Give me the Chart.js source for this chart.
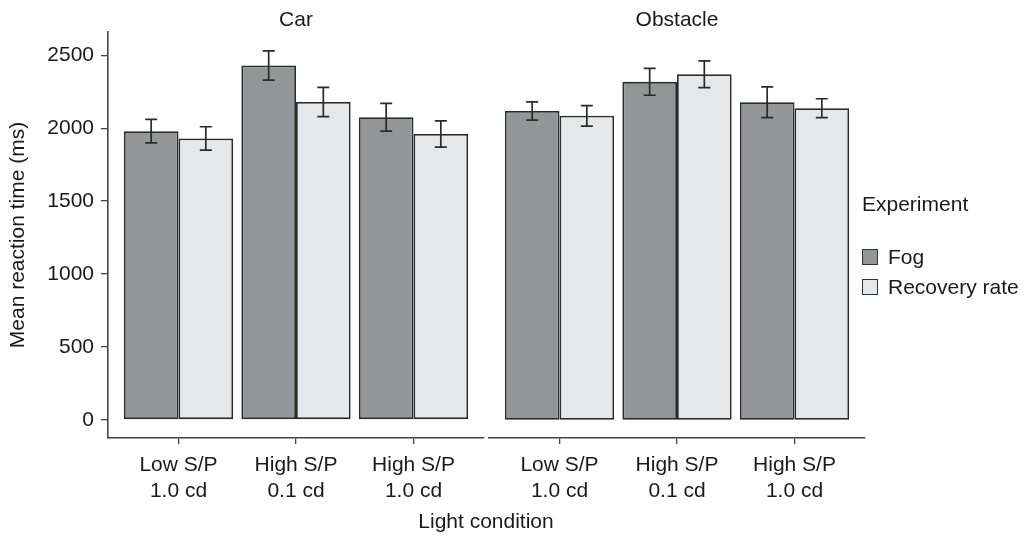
<!DOCTYPE html>
<html>
<head>
<meta charset="utf-8">
<script src="https://cdn.jsdelivr.net/npm/chart.js@4.4.1/dist/chart.umd.min.js"></script>
<style>
    body {
        margin: 0;
        width: 1025px;
        height: 537px;
        background: #fff;
        position: relative;
        overflow: hidden;
        font-family: 'Liberation Sans', Arial, sans-serif;
        color: #1a1a1a;
    }
    #leftWrap { position: absolute; left: 0; top: 0; width: 486px; height: 537px; }
    #rightWrap { position: absolute; left: 487px; top: 0; width: 538px; height: 537px; }
    #xTitle {
        position: absolute; left: 386px; width: 200px; top: 509px;
        text-align: center; font-size: 21px;
    }
    #legend { position: absolute; left: 862px; top: 192px; font-size: 21px; }
    #legend .ttl { margin-bottom: 26px; }
    #legend .item { display: flex; align-items: center; height: 30px; }
    #legend .box {
        width: 14px; height: 14px; border: 1px solid #333; margin-right: 10px;
    }
</style>
</head>
<body>
<div id="leftWrap"><canvas id="carChart"></canvas></div>
<div id="rightWrap"><canvas id="obstacleChart"></canvas></div>
<div id="xTitle">Light condition</div>
<div id="legend"></div>

<script>
// Data
const conditions = [['Low S/P', '1.0 cd'], ['High S/P', '0.1 cd'], ['High S/P', '1.0 cd']];
const seriesNames = ['Fog', 'Recovery rate'];
const seriesColors = ['#939598', '#e6e7e8'];

const carFog = [1980, 2430, 2075];
const carFogErr = [80, 100, 95];
const carRecovery = [1930, 2180, 1960];
const carRecoveryErr = [80, 100, 90];

const obstacleFog = [2118, 2318, 2178];
const obstacleFogErr = [62, 92, 105];
const obstacleRecovery = [2085, 2370, 2137];
const obstacleRecoveryErr = [70, 92, 65];

const yTicks = [0, 500, 1000, 1500, 2000, 2500];

const FONT = { family: "'Liberation Sans', Arial, sans-serif", size: 21 };
const INK = '#1a1a1a';
const AXIS = '#444';

// error bars drawn from the dataset's err array
const errorBars = {
    id: 'errorBars',
    afterDatasetsDraw(chart) {
        const ctx = chart.ctx;
        const yScale = chart.scales.y;
        ctx.save();
        ctx.strokeStyle = '#2a2a2a';
        ctx.lineWidth = 1.7;
        chart.data.datasets.forEach((ds, i) => {
            const meta = chart.getDatasetMeta(i);
            meta.data.forEach((bar, j) => {
                const v = ds.data[j].y;
                const e = ds.err[j];
                const top = yScale.getPixelForValue(v + e);
                const bot = yScale.getPixelForValue(v - e);
                ctx.beginPath();
                ctx.moveTo(bar.x, top);
                ctx.lineTo(bar.x, bot);
                ctx.moveTo(bar.x - 6, top);
                ctx.lineTo(bar.x + 6, top);
                ctx.moveTo(bar.x - 6, bot);
                ctx.lineTo(bar.x + 6, bot);
                ctx.stroke();
            });
        });
        ctx.restore();
    }
};

// facet strip title centred over the plot area
const panelTitle = {
    id: 'panelTitle',
    afterDraw(chart, args, opts) {
        const ctx = chart.ctx;
        const area = chart.chartArea;
        ctx.save();
        ctx.font = FONT.size + 'px ' + FONT.family;
        ctx.fillStyle = INK;
        ctx.textAlign = 'center';
        ctx.textBaseline = 'middle';
        ctx.fillText(opts.text, (area.left + area.right) / 2, 20);
        ctx.restore();
    }
};

function makePanel(canvasId, title, fog, fogErr, rec, recErr, showY) {
    const toPoints = arr => arr.map((v, i) => ({ x: i, y: v }));
    return new Chart(document.getElementById(canvasId), {
        type: 'bar',
        data: {
            datasets: [{
                label: seriesNames[0],
                data: toPoints(fog),
                err: fogErr,
                backgroundColor: seriesColors[0],
                borderColor: '#2a2a2a',
                borderWidth: 1.8,
                borderSkipped: false
            }, {
                label: seriesNames[1],
                data: toPoints(rec),
                err: recErr,
                backgroundColor: seriesColors[1],
                borderColor: '#2a2a2a',
                borderWidth: 1.8,
                borderSkipped: false
            }]
        },
        options: {
            responsive: true,
            maintainAspectRatio: false,
            animation: false,
            categoryPercentage: 0.93,
            barPercentage: 1,
            layout: {
                padding: showY ? { top: 32, right: 2, left: 0, bottom: 0 }
                               : { top: 32, right: 160, left: 2, bottom: 0 }
            },
            plugins: {
                legend: { display: false },
                tooltip: { enabled: false },
                panelTitle: { text: title }
            },
            scales: {
                x: {
                    type: 'linear',
                    min: -0.6,
                    max: 2.6,
                    offset: false,
                    afterBuildTicks: s => { s.ticks = conditions.map((c, i) => ({ value: i })); },
                    afterFit: s => { s.height = 99; },
                    grid: {
                        offset: false,
                        drawOnChartArea: false,
                        drawTicks: true,
                        tickLength: 6,
                        color: AXIS,
                        lineWidth: 1.3
                    },
                    border: { display: true, color: AXIS, width: 1.6 },
                    ticks: {
                        color: INK,
                        font: { family: FONT.family, size: FONT.size, lineHeight: 1.2 },
                        padding: 9,
                        maxRotation: 0,
                        autoSkip: false,
                        callback: v => conditions[v]
                    }
                },
                y: {
                    display: showY,
                    min: -125,
                    max: 2660,
                    afterBuildTicks: s => { s.ticks = yTicks.map(v => ({ value: v })); },
                    afterFit: s => { if (showY) s.width = 108; },
                    grid: {
                        drawOnChartArea: false,
                        drawTicks: true,
                        tickLength: 7,
                        color: AXIS,
                        lineWidth: 1.3
                    },
                    border: { display: true, color: AXIS, width: 1.6 },
                    ticks: {
                        color: INK,
                        font: FONT,
                        padding: 7,
                        callback: v => String(v)
                    },
                    title: {
                        display: true,
                        text: 'Mean reaction time (ms)',
                        color: INK,
                        font: FONT,
                        padding: { top: 6, bottom: 0 }
                    }
                }
            }
        },
        plugins: [errorBars, panelTitle]
    });
}

makePanel('carChart', 'Car', carFog, carFogErr, carRecovery, carRecoveryErr, true);
makePanel('obstacleChart', 'Obstacle', obstacleFog, obstacleFogErr, obstacleRecovery, obstacleRecoveryErr, false);

// legend
const legend = document.getElementById('legend');
let html = '<div class="ttl">Experiment</div>';
seriesNames.forEach((name, i) => {
    html += '<div class="item"><span class="box" style="background:' + seriesColors[i] + '"></span>' + name + '</div>';
});
legend.innerHTML = html;
</script>
</body>
</html>
